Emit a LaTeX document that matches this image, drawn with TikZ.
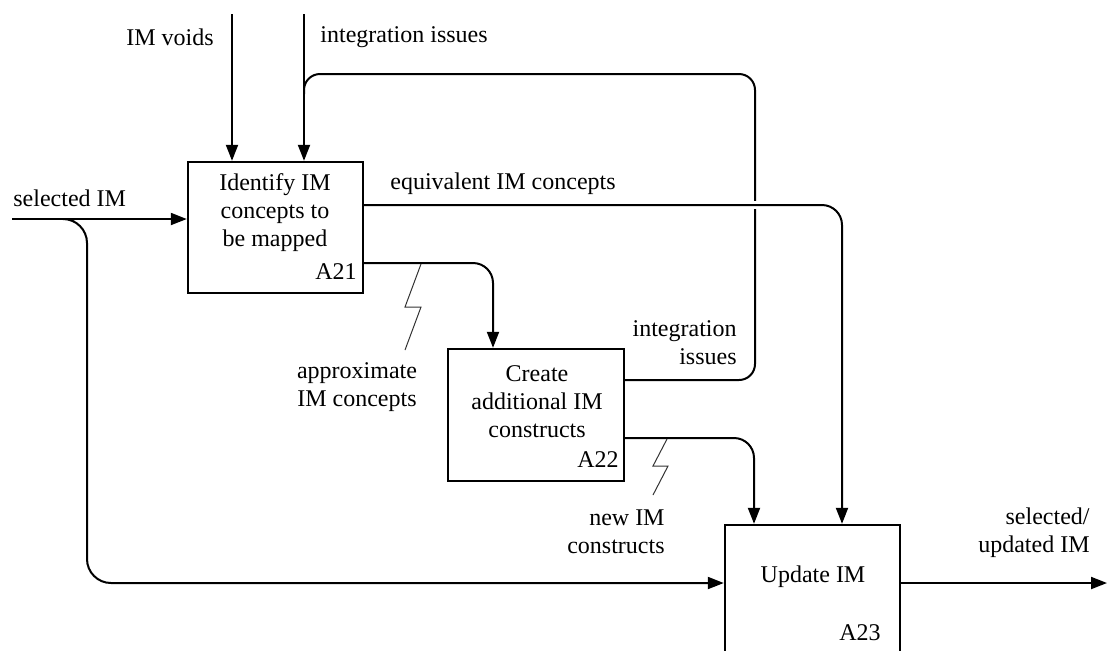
\documentclass[tikz,border=0pt]{standalone}
\usepackage{fontspec}
\setmainfont{Liberation Serif}
\usetikzlibrary{arrows.meta}
\tikzset{
  box/.style={draw, line width=1.2pt, fill=white, inner sep=0pt, minimum width=87.5pt},
  conn/.style={line width=1pt},
  arr/.style={conn, -{Triangle[length=8pt,width=6pt]}},
  squig/.style={line width=0.5pt, black!80},
  lbl/.style={inner sep=0pt, font=\fontsize{12}{14}\selectfont},
  code/.style={inner sep=0pt, font=\fontsize{12}{14}\selectfont}
}
\begin{document}
\begin{tikzpicture}[x=0.5pt,y=-0.5pt]
\clip (0,0) rectangle (1107,650);
\fill[white] (0,0) rectangle (1107,650);

% boxes
\node[box, minimum height=65.5pt] (a21) at (275.5,227.5) {};
\node[box, minimum width=88pt, minimum height=66pt] (a22) at (536,415) {};
\node[box, minimum height=77.5pt] (a23) at (812.5,602.5) {};

% box texts
\node[lbl, align=center] (t21) at (275,213) {Identify IM\\concepts to\\be mapped};
\node[code, anchor=east] (c21) at (357,272) {A21};
\node[lbl, align=center] (t22) at (537,402) {Create\\additional IM\\constructs};
\node[code, anchor=east] (c22) at (619,460) {A22};
\node[lbl] (t23) at (813,577) {Update IM};
\node[code, anchor=east] (c23) at (881,633) {A23};

% labels
\node[lbl, anchor=east] (lvoids) at (214,37) {IM voids};
\node[lbl, anchor=west] (liss) at (320,37) {integration issues};
\node[lbl, anchor=west] (lsel) at (13,198) {selected IM};
\node[lbl, anchor=west] (leq) at (390,184) {equivalent IM concepts};
\node[lbl, align=center] (lapp) at (357,387) {approximate\\IM concepts};
\node[lbl, align=right, anchor=east] (liss2) at (737,343) {integration\\issues};
\node[lbl, align=right, anchor=east] (lnew) at (665,532) {new IM\\constructs};
\node[lbl, align=right, anchor=east] (lout) at (1090,533) {selected/\\updated IM};

% controls from top
\coordinate (voidsin) at (232,14);
\draw[arr] (voidsin) -- (voidsin |- a21.north);
\coordinate (issin) at (304,14);
\draw[arr] (issin) -- (issin |- a21.north);

% feedback integration issues from A22
\coordinate (fbr) at (755,380);
\coordinate (fbt) at (755,74);
\coordinate (fbl) at (304,74);
\coordinate (fbj) at (304,94);
\draw[conn, rounded corners=8] (a22.east |- fbr) -- (fbr) -- (fbt) -- (fbl) -- (fbj);

% selected IM input and branch
\coordinate (selin) at (12,219);
\draw[arr] (selin) -- (selin -| a21.west);
\coordinate (selbr) at (75,219);
\coordinate (brtop) at (87,219);
\coordinate (brbot) at (87,583);
\draw[arr, rounded corners=12] (selbr) -- (brtop) -- (brbot) -- (brbot -| a23.west);

% equivalent IM concepts (crosses feedback line)
\coordinate (eqlev) at (842,205);
\coordinate (gapl) at (747,205);
\coordinate (gapr) at (763,205);
\draw[white, line width=4pt] (gapl) -- (gapr);
\draw[arr, rounded corners=10] (a21.east |- eqlev) -- (eqlev) -- (eqlev |- a23.north);

% approximate IM concepts
\coordinate (aplev) at (493,263);
\draw[arr, rounded corners=10] (a21.east |- aplev) -- (aplev) -- (aplev |- a22.north);

% new IM constructs
\coordinate (nwlev) at (754,438);
\draw[arr, rounded corners=10] (a22.east |- nwlev) -- (nwlev) -- (nwlev |- a23.north);

% output
\coordinate (outend) at (1107,583);
\draw[arr] (outend -| a23.east) -- (outend);

% squiggles
\draw[squig] (421,264) -- (405,307) -- (421,307) -- (405,350);
\draw[squig] (667,439) -- (653,466) -- (668,466) -- (653,495);
\end{tikzpicture}
\end{document}
